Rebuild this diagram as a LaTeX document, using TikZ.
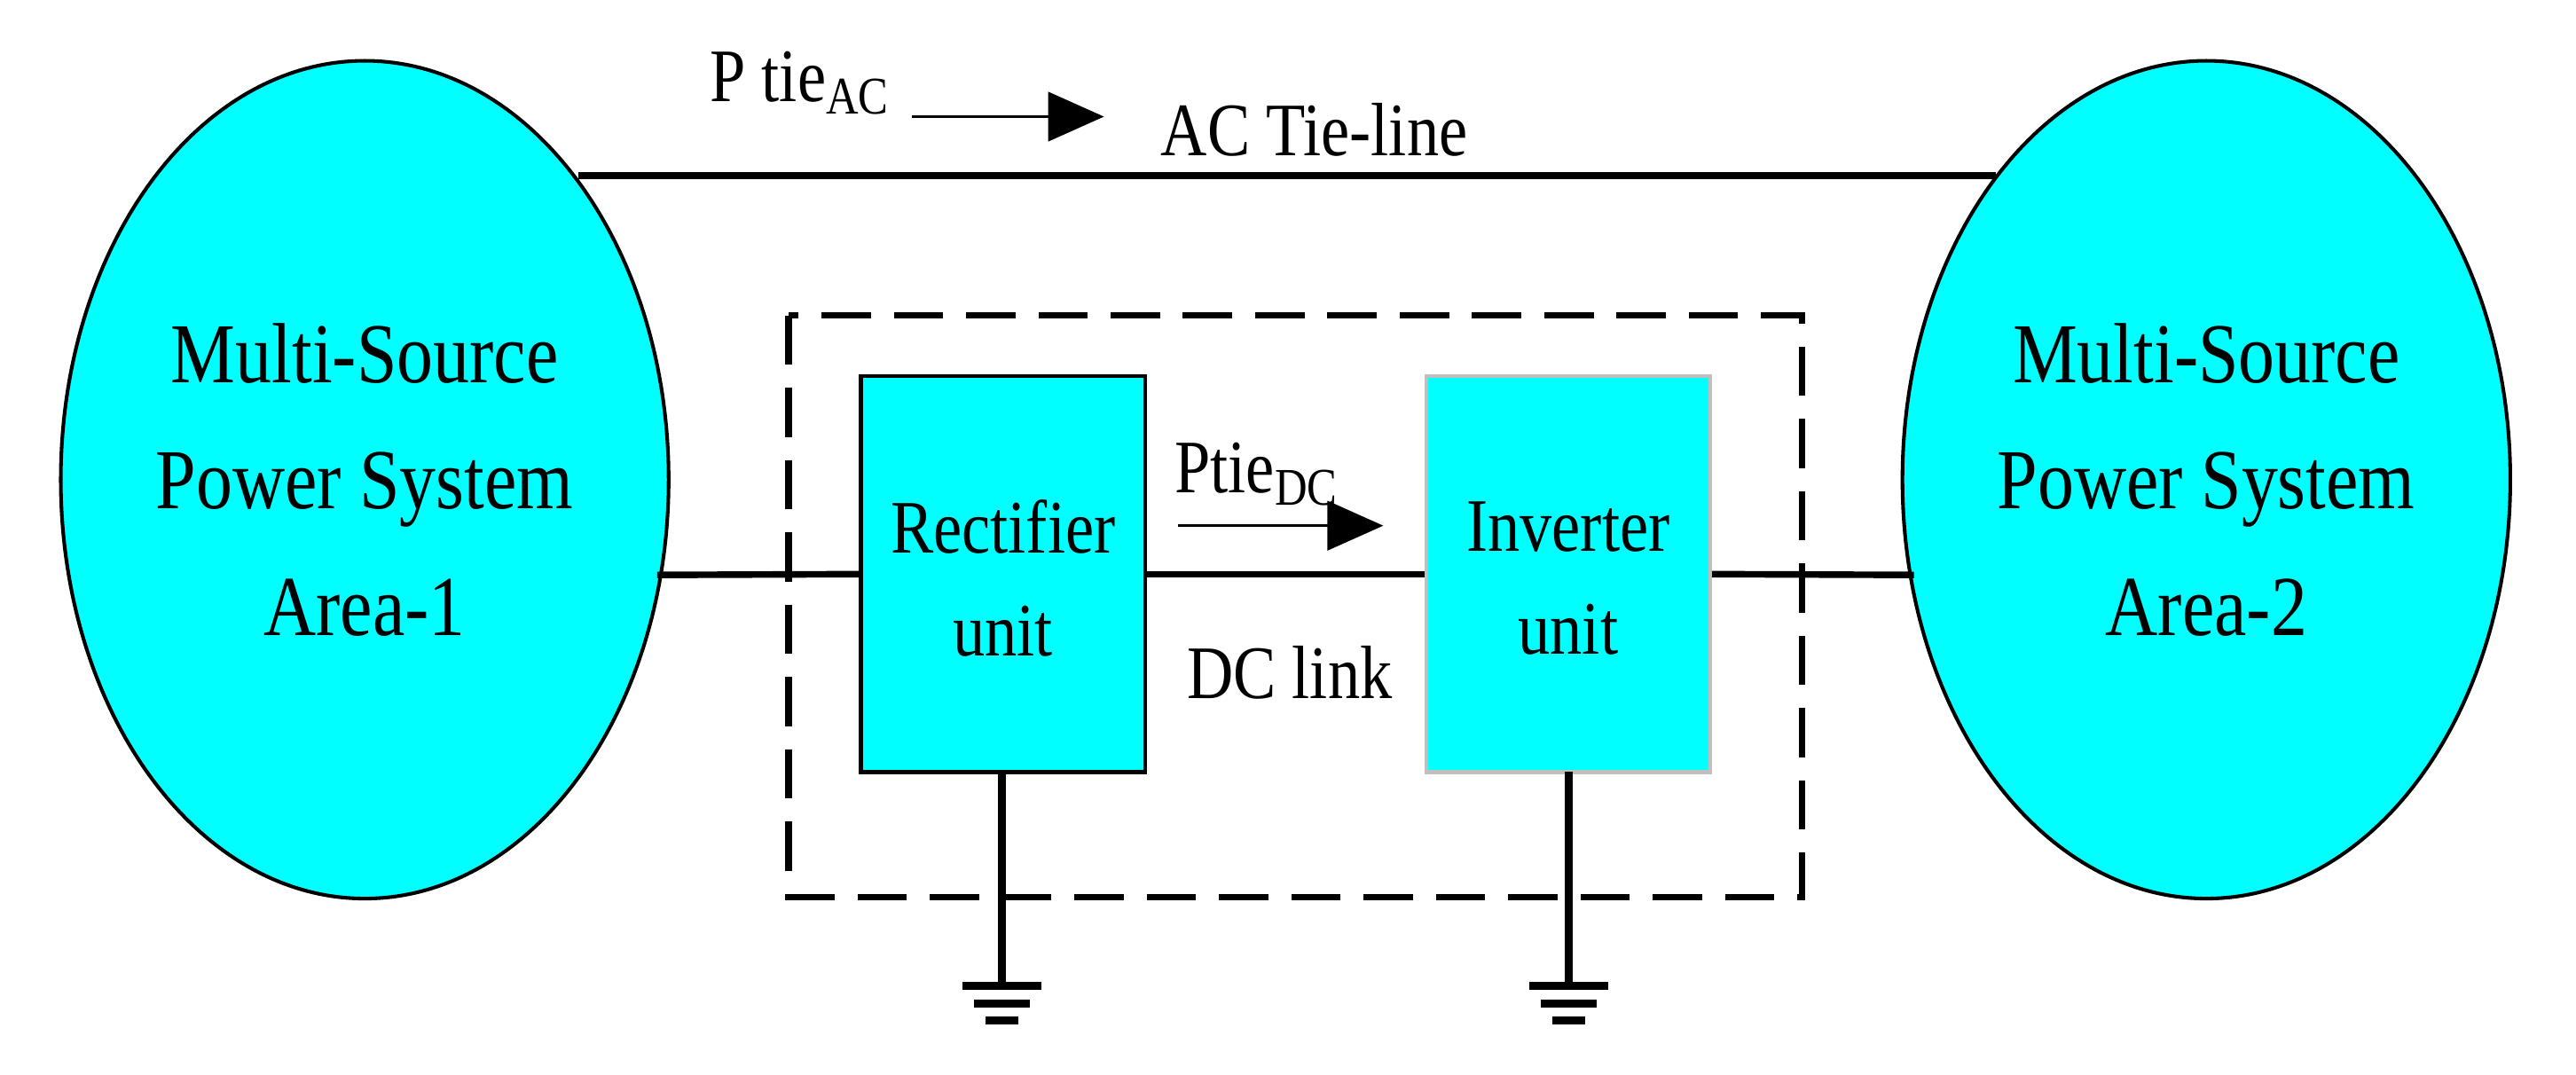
\documentclass[tikz,border=0pt]{standalone}
\usepackage{fontspec}
\setmainfont{Liberation Serif}[FakeStretch=0.85]
\usetikzlibrary{arrows.meta,shapes.geometric}
\definecolor{cy}{RGB}{0,255,255}
\begin{document}
\begin{tikzpicture}[x=0.5pt,y=-0.5pt,
  area/.style={ellipse,draw,fill=cy,line width=1.1pt,minimum width=185pt,minimum height=255pt,inner sep=0pt},
  unit/.style={draw,fill=cy,line width=1.1pt,minimum width=86.5pt,minimum height=120.5pt,inner sep=0pt},
  wire/.style={line width=2pt},
  lbl/.style={font=\fontsize{26}{38.5}\selectfont,align=center,inner sep=0pt},
  ulbl/.style={font=\fontsize{23}{31.5}\selectfont,align=center,inner sep=0pt},
  flow/.style={line width=0.8pt,-{Triangle[length=17pt,width=15pt]}},
  gnd/.style={line width=2.5pt}]
\useasboundingbox (0,0) rectangle (1568,654);
\node[area] (a1) at (222,292) {};
\node[lbl] at (222,292) {Multi-Source\\Power System\\Area-1};
\node[area] (a2) at (1343,292) {};
\node[lbl] at (1343,292) {Multi-Source\\Power System\\Area-2};
\draw[wire,dash pattern=on 15pt off 7pt] (480,192) rectangle (1097,546);
\node[unit] (r) at (610.5,349.5) {};
\node[ulbl] at (610.5,352) {Rectifier\\unit};
\node[unit,draw=gray!50] (i) at (954.5,349.5) {};
\node[ulbl] at (954.5,352) {Inverter\\unit};
\coordinate (tl) at (352,107); \coordinate (tr) at (1215,107);
\draw[wire] (tl) -- (tr);
\coordinate (l1) at (400,350); \coordinate (l2) at (1165,350);
\draw[wire] (l1) -- (r.west);
\draw[wire] (r.east) -- (i.west);
\draw[wire] (i.east) -- (l2);
\node[ulbl,anchor=base] at (487,62) {P tie\textsubscript{AC}};
\coordinate (f1) at (555,71); \coordinate (f2) at (672,71);
\draw[flow] (f1) -- (f2);
\node[ulbl,anchor=base] at (800,95) {AC Tie-line};
\node[ulbl,anchor=base] at (765,300) {Ptie\textsubscript{DC}};
\coordinate (d1) at (717,320); \coordinate (d2) at (842,320);
\draw[flow] (d1) -- (d2);
\node[ulbl,anchor=base] at (785,425) {DC link};
\foreach \x/\n in {610/g1,955/g2}{
  \coordinate (\n) at (\x,600);
  \draw[wire,line width=2.5pt] (\x,470) -- (\n);
  \draw[gnd] (\x-24,600) -- (\x+24,600);
  \draw[gnd] (\x-17,611) -- (\x+17,611);
  \draw[gnd] (\x-10,621) -- (\x+10,621);
}
\end{tikzpicture}
\end{document}
